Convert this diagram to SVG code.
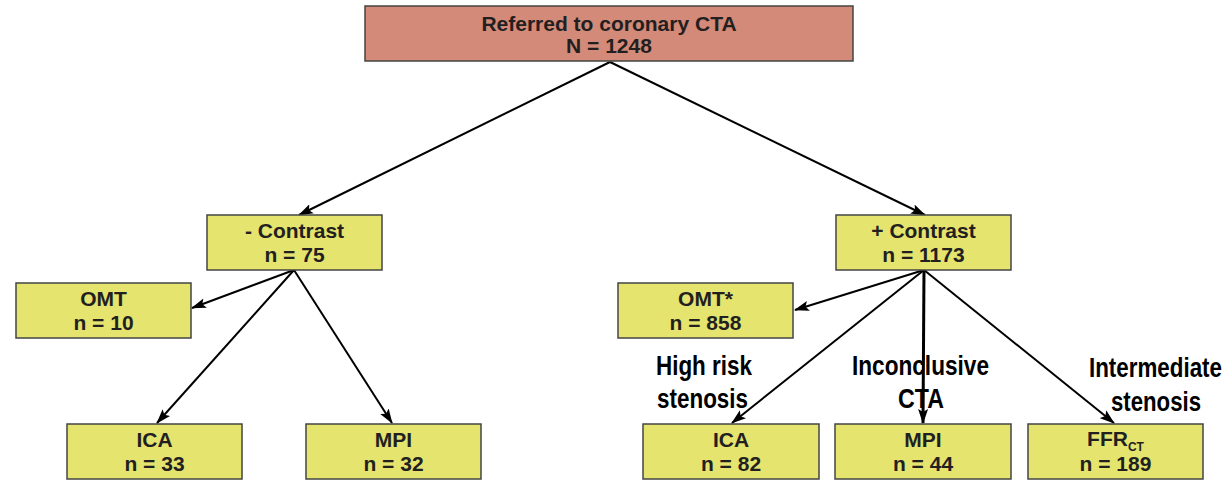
<svg xmlns="http://www.w3.org/2000/svg" width="1229" height="483" viewBox="0 0 1229 483">
<style>
.box{fill:#e4e46e;stroke:#444;stroke-width:1.5}
.top{fill:#d38a78;stroke:#444;stroke-width:1.5}
.t{font-family:"Liberation Sans",Arial,sans-serif;font-weight:bold;font-size:21px;fill:#231f20;text-anchor:middle}
.lab{font-family:"Liberation Sans",Arial,sans-serif;font-weight:bold;font-size:28.5px;fill:#000}
.c{stroke:#000;stroke-width:2;fill:none;marker-end:url(#ah)}
</style>
<defs>
<marker id="ah" markerUnits="userSpaceOnUse" markerWidth="15" markerHeight="12" refX="14" refY="5" orient="auto" viewBox="0 0 15 10">
<path d="M0,0 L15,5 L0,10 L3,5 z" fill="#000"/>
</marker>
</defs>
<g id="connectors">
<line class="c" x1="610" y1="62" x2="299" y2="215"/>
<line class="c" x1="610" y1="62" x2="925" y2="215"/>
<line class="c" x1="294" y1="270" x2="192" y2="308"/>
<line class="c" x1="294" y1="270" x2="157" y2="423"/>
<line class="c" x1="294" y1="270" x2="392" y2="423"/>
<line class="c" x1="924" y1="270" x2="795" y2="310"/>
<line class="c" x1="924" y1="270" x2="732" y2="423"/>
<line class="c" style="stroke-width:3" x1="924" y1="270" x2="923" y2="423"/>
<line class="c" x1="924" y1="270" x2="1114" y2="423"/>
</g>
<g id="root">
<rect class="top" x="365" y="6" width="488" height="55"/>
<text class="t" x="609" y="31">Referred to coronary CTA</text>
<text class="t" x="609" y="53">N = 1248</text>
</g>
<g id="minus-contrast">
<rect class="box" x="207" y="215" width="175" height="55"/>
<text class="t" x="294.5" y="238">- Contrast</text>
<text class="t" x="294.5" y="262">n = 75</text>
</g>
<g id="plus-contrast">
<rect class="box" x="836" y="215" width="175" height="55"/>
<text class="t" x="923.5" y="238">+ Contrast</text>
<text class="t" x="923.5" y="262">n = 1173</text>
</g>
<g id="omt">
<rect class="box" x="16" y="283" width="175" height="55"/>
<text class="t" x="103.5" y="306">OMT</text>
<text class="t" x="103.5" y="330">n = 10</text>
</g>
<g id="omt-star">
<rect class="box" x="618" y="283" width="175" height="55"/>
<text class="t" x="705.5" y="306">OMT*</text>
<text class="t" x="705.5" y="330">n = 858</text>
</g>
<g id="ica-left">
<rect class="box" x="67" y="424" width="175" height="55"/>
<text class="t" x="154.5" y="447">ICA</text>
<text class="t" x="154.5" y="471">n = 33</text>
</g>
<g id="mpi-left">
<rect class="box" x="306" y="424" width="175" height="55"/>
<text class="t" x="393.5" y="447">MPI</text>
<text class="t" x="393.5" y="471">n = 32</text>
</g>
<g id="ica-right">
<rect class="box" x="643" y="424" width="176" height="55"/>
<text class="t" x="731" y="447">ICA</text>
<text class="t" x="731" y="471">n = 82</text>
</g>
<g id="mpi-right">
<rect class="box" x="835" y="424" width="176" height="55"/>
<text class="t" x="923" y="447">MPI</text>
<text class="t" x="923" y="471">n = 44</text>
</g>
<g id="ffr">
<rect class="box" x="1028" y="424" width="175" height="55"/>
<text class="t" x="1115.5" y="446">FFR<tspan font-size="12" dy="5">CT</tspan></text>
<text class="t" x="1115.5" y="471">n = 189</text>
</g>
<g id="labels">
<text class="lab" transform="translate(656,375) scale(0.78,1)" textLength="123" lengthAdjust="spacingAndGlyphs">High risk</text>
<text class="lab" transform="translate(657,408) scale(0.78,1)" textLength="116.7" lengthAdjust="spacingAndGlyphs">stenosis</text>
<text class="lab" transform="translate(852,375) scale(0.78,1)" textLength="175.6" lengthAdjust="spacingAndGlyphs">Inconclusive</text>
<text class="lab" transform="translate(898,408) scale(0.78,1)" textLength="59" lengthAdjust="spacingAndGlyphs">CTA</text>
<text class="lab" transform="translate(1089,377) scale(0.78,1)" textLength="170.5" lengthAdjust="spacingAndGlyphs">Intermediate</text>
<text class="lab" transform="translate(1111,411) scale(0.78,1)" textLength="115.4" lengthAdjust="spacingAndGlyphs">stenosis</text>
</g>
</svg>
